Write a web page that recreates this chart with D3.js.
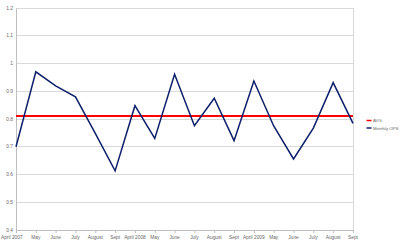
<!DOCTYPE html>
<html><head><meta charset="utf-8">
<script src="https://cdn.jsdelivr.net/npm/d3@7"></script>
<style>body{margin:0;background:#fff}svg{display:block}</style>
</head><body>
<svg id="c" width="400" height="244"></svg>
<script>
const categories = ["April 2007","May","June","July","August","Sept","April 2008","May","June","July","August","Sept","April 2009","May","June","July","August","Sept"];
const monthlyOPS = [0.700,0.970,0.919,0.880,0.748,0.613,0.848,0.730,0.961,0.776,0.875,0.722,0.937,0.775,0.656,0.767,0.931,0.784];
const avgValue = 0.811;
const yTicks = [0.4,0.5,0.6,0.7,0.8,0.9,1,1.1,1.2];
const seriesNames = ["AVG","Monthly OPS"];

const svg = d3.select("#c");
const m = {l:16, r:47, t:8, b:14};
const W = 400, H = 244;
const idx = categories.map((d,i)=>i);
const x = d3.scalePoint().domain(idx).range([m.l, W - m.r]);
const y = d3.scaleLinear().domain([0.4,1.2]).range([H - m.b, m.t]);
const font = "Liberation Sans, Arial, sans-serif";
const k = 0.5;      // text scale factor (avoid minimum font-size clamping)

function smallText(g, txt, tx, ty, anchor, fs){
  g.append("text").attr("transform",`translate(${tx},${ty}) scale(${k})`)
    .attr("text-anchor",anchor).attr("font-family",font).attr("font-size",fs)
    .attr("fill","#666").text(txt);
}

// gridlines
svg.append("g").selectAll("line").data(yTicks).join("line")
  .attr("x1", m.l).attr("x2", W - m.r)
  .attr("y1", d=>y(d)).attr("y2", d=>y(d))
  .attr("stroke", "#d9d9d9").attr("stroke-width", 1).attr("shape-rendering","crispEdges");
// right border
svg.append("line").attr("x1", W-m.r).attr("x2", W-m.r).attr("y1", m.t).attr("y2", H-m.b)
  .attr("stroke","#d9d9d9").attr("shape-rendering","crispEdges");

// y axis
const ya = svg.append("g").attr("transform", `translate(${m.l},0)`)
  .call(d3.axisLeft(y).tickValues(yTicks).tickSize(0).tickFormat(""));
ya.select(".domain").attr("stroke","#bfbfbf");
const yl = svg.append("g");
yTicks.forEach(t=>smallText(yl, d3.format("")(t), m.l-3, y(t)+1.7, "end", 9.6));

// x axis
const xa = svg.append("g").attr("transform", `translate(0,${H-m.b})`)
  .call(d3.axisBottom(x).tickSize(3).tickFormat(""));
xa.select(".domain").attr("stroke","#bfbfbf");
xa.selectAll("line").attr("stroke","#bfbfbf");
const xl = svg.append("g");
idx.forEach(i=>{
  if(i===0) smallText(xl, categories[i], 1, H-m.b+9, "start", 9.6);
  else smallText(xl, categories[i], x(i), H-m.b+9, "middle", 9.6);
});

// avg line
svg.append("line").attr("x1", x(0)).attr("x2", x(idx.length-1))
  .attr("y1", y(avgValue)).attr("y2", y(avgValue))
  .attr("stroke","#ff0000").attr("stroke-width",2);

// monthly line
svg.append("path").datum(monthlyOPS)
  .attr("d", d3.line().x((d,i)=>x(i)).y(d=>y(d)))
  .attr("fill","none").attr("stroke","#0d1f6b").attr("stroke-width",1.5);

// legend
const lg = svg.append("g").attr("transform","translate(366.5,120.5)");
const colors = ["#ff0000","#0d1f6b"];
seriesNames.forEach((n,i)=>{
  const g = lg.append("g").attr("transform",`translate(0,${i*7.5})`);
  g.append("line").attr("x1",0).attr("x2",5).attr("stroke",colors[i]).attr("stroke-width",1.5);
  smallText(g, n, 6.5, 1.6, "start", 8.6);
});
</script>
</body></html>
